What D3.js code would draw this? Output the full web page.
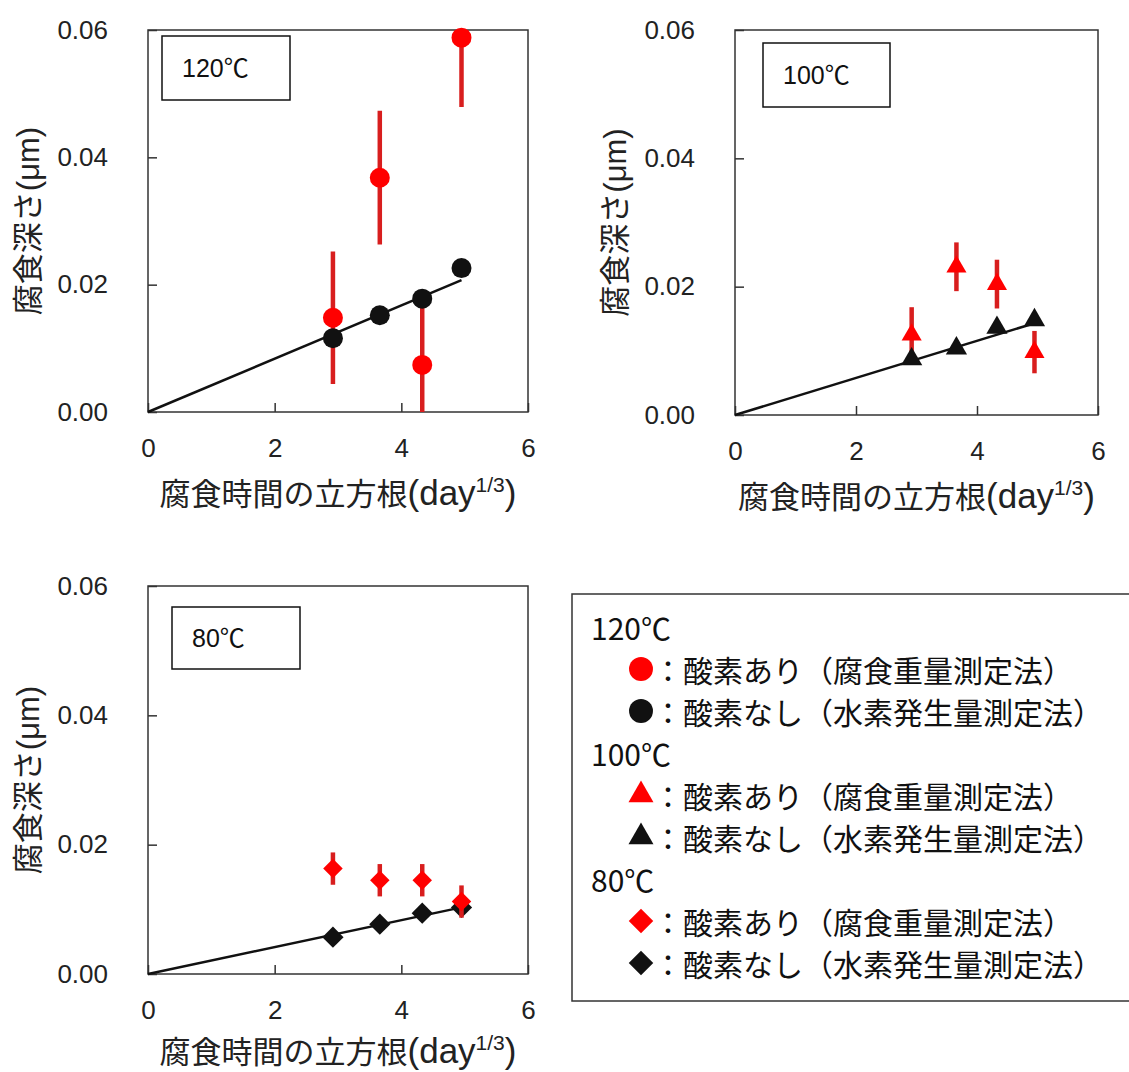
<!DOCTYPE html>
<html><head><meta charset="utf-8">
<script src="https://cdn.jsdelivr.net/npm/d3@7"></script>
<style>body{margin:0;background:#fff}</style>
</head><body>
<svg id="c" width="1129" height="1072"></svg>
<script>
// ---- data ----
const xTicks = [0, 2, 4, 6];
const yTicks = [0, 0.02, 0.04, 0.06];
const cubeRootDays = [2.92, 3.66, 4.33, 4.95];
const fitX = [0, 4.95];

// 120℃
const o2_120 = [0.0148, 0.0368, 0.0074, 0.0588];
const o2_120_err = [0.0104, 0.0105, 0.0092, 0.0109];
const h2_120 = [0.0116, 0.0152, 0.0178, 0.0226];
const fit_120 = [0, 0.0207];
// 100℃
const o2_100 = [0.0125, 0.0231, 0.0204, 0.0098];
const o2_100_err = [0.0043, 0.0038, 0.0038, 0.0033];
const h2_100 = [0.0087, 0.0104, 0.0136, 0.0148];
const fit_100 = [0, 0.0143];
// 80℃
const o2_80 = [0.0163, 0.0145, 0.0145, 0.0112];
const o2_80_err = [0.0025, 0.0025, 0.0025, 0.0025];
const h2_80 = [0.0057, 0.0077, 0.0094, 0.0103];
const fit_80 = [0, 0.0103];

const tempLabels = ["120℃", "100℃", "80℃"];
const legendWith = "：酸素あり（腐食重量測定法）";
const legendWithout = "：酸素なし（水素発生量測定法）";
const yTitleCJK = "腐食深さ", yTitleLatin = "(μm)";
const xTitleCJK = "腐食時間の立方根", xTitleLatin = "(day", xTitleSup = "1/3", xTitleEnd = ")";

// ---- style ----
const RED = "#ff0000", BAR = "#d81e1e", INK = "#111", AX = "#333";
const CJK = "'Noto Sans CJK JP', sans-serif";
const LAT = "'Liberation Sans', Arial, 'Noto Sans CJK JP', sans-serif";

const diamond = {draw(ctx, size){const s=Math.sqrt(size)/2*Math.SQRT2; ctx.moveTo(0,-s);ctx.lineTo(s,0);ctx.lineTo(0,s);ctx.lineTo(-s,0);ctx.closePath();}};

const panels = [
  {temp: tempLabels[0], o2: o2_120, err: o2_120_err, h2: h2_120, fit: fit_120,
   shape: d3.symbolCircle, redSize: 314, blackSize: 314, redTop: false,
   L: 148, R: 528, T: 30, B: 412, box: [162, 36, 128, 64], yTitleX: 28, xTitleY: 505},
  {temp: tempLabels[1], o2: o2_100, err: o2_100_err, h2: h2_100, fit: fit_100,
   shape: d3.symbolTriangle, redSize: 175, blackSize: 195, redTop: false,
   L: 735, R: 1098, T: 30, B: 415, box: [763, 43, 127, 64], yTitleX: 615, xTitleY: 508},
  {temp: tempLabels[2], o2: o2_80, err: o2_80_err, h2: h2_80, fit: fit_80,
   shape: diamond, redSize: 190, blackSize: 225, redTop: true,
   L: 148, R: 528, T: 586, B: 974, box: [172, 607, 128, 62], yTitleX: 28, xTitleY: 1063}
];

const svg = d3.select("#c");
const defs = svg.append("defs");

panels.forEach((p, pi) => {
  const x = d3.scaleLinear().domain([0, 6]).range([p.L, p.R]);
  const y = d3.scaleLinear().domain([0, 0.06]).range([p.B, p.T]);
  const g = svg.append("g");

  defs.append("clipPath").attr("id", "clip" + pi)
    .append("rect").attr("x", p.L).attr("y", p.T).attr("width", p.R - p.L).attr("height", p.B - p.T);

  // axes
  const xa = g.append("g").attr("transform", `translate(0,${p.B})`)
    .call(d3.axisBottom(x).tickValues(xTicks).tickFormat(d3.format("d")).tickSizeInner(-9).tickSizeOuter(0).tickPadding(27));
  const ya = g.append("g").attr("transform", `translate(${p.L},0)`)
    .call(d3.axisLeft(y).tickValues(yTicks).tickFormat(d3.format(".2f")).tickSizeInner(-9).tickSizeOuter(0).tickPadding(40));
  [xa, ya].forEach(a => {
    a.select(".domain").remove();
    a.selectAll("line").attr("stroke", AX).attr("stroke-width", 1.5);
    a.selectAll("text").attr("fill", "#222").style("font-family", LAT).style("font-size", "26px");
  });

  // frame
  g.append("rect").attr("x", p.L).attr("y", p.T).attr("width", p.R - p.L).attr("height", p.B - p.T)
    .attr("fill", "none").attr("stroke", AX).attr("stroke-width", 1.5);

  // inset label box
  g.append("rect").attr("x", p.box[0]).attr("y", p.box[1]).attr("width", p.box[2]).attr("height", p.box[3])
    .attr("fill", "#fff").attr("stroke", "#111").attr("stroke-width", 1.5);
  g.append("text").attr("x", p.box[0] + 20).attr("y", p.box[1] + p.box[3] / 2 + 9)
    .style("font-family", LAT).style("font-size", "25px").attr("fill", "#111").text(p.temp);

  const plot = g.append("g");
  const drawRed = () => {
    plot.append("g").attr("clip-path", `url(#clip${pi})`).selectAll("line").data(p.o2).join("line")
      .attr("x1", (d, i) => x(cubeRootDays[i])).attr("x2", (d, i) => x(cubeRootDays[i]))
      .attr("y1", (d, i) => y(d + p.err[i])).attr("y2", (d, i) => y(d - p.err[i]))
      .attr("stroke", BAR).attr("stroke-width", 4.5);
    plot.append("g").selectAll("path").data(p.o2).join("path")
      .attr("transform", (d, i) => `translate(${x(cubeRootDays[i])},${y(d)})`)
      .attr("d", d3.symbol(p.shape, p.redSize)).attr("fill", RED);
  };
  const drawBlack = () => {
    plot.append("path").datum(fitX.map((v, i) => [v, p.fit[i]]))
      .attr("d", d3.line().x(d => x(d[0])).y(d => y(d[1])))
      .attr("stroke", INK).attr("stroke-width", 2.5).attr("fill", "none");
    plot.append("g").selectAll("path").data(p.h2).join("path")
      .attr("transform", (d, i) => `translate(${x(cubeRootDays[i])},${y(d)})`)
      .attr("d", d3.symbol(p.shape, p.blackSize)).attr("fill", INK);
  };
  if (p.redTop) { drawBlack(); drawRed(); } else { drawRed(); drawBlack(); }

  // y title
  const yt = g.append("text")
    .attr("transform", `translate(${p.yTitleX + 11},${(p.T + p.B) / 2}) rotate(-90)`)
    .attr("text-anchor", "middle").attr("fill", "#222");
  yt.append("tspan").style("font-family", CJK).style("font-size", "31px").text(yTitleCJK);
  yt.append("tspan").style("font-family", LAT).style("font-size", "31px").text(yTitleLatin);

  // x title
  const xt = g.append("text").attr("x", (p.L + p.R) / 2).attr("y", p.xTitleY)
    .attr("text-anchor", "middle").attr("fill", "#222");
  xt.append("tspan").style("font-family", CJK).style("font-size", "31px").text(xTitleCJK);
  xt.append("tspan").style("font-family", LAT).style("font-size", "35px").text(xTitleLatin);
  xt.append("tspan").style("font-family", LAT).style("font-size", "21px").attr("dy", -13).text(xTitleSup);
  xt.append("tspan").style("font-family", LAT).style("font-size", "35px").attr("dy", 13).text(xTitleEnd);
});

// ---- legend ----
const lg = svg.append("g");
lg.append("rect").attr("x", 572).attr("y", 594).attr("width", 600).attr("height", 407)
  .attr("fill", "#fff").attr("stroke", AX).attr("stroke-width", 1.5);
const legendShapes = [
  {shape: d3.symbolCircle, size: 450},
  {shape: d3.symbolTriangle, size: 270},
  {shape: diamond, size: 300}
];
const rowY = d3.scaleLinear().domain([0, 8]).range([627, 963]);
tempLabels.forEach((t, k) => {
  const r0 = k * 3;
  lg.append("text").attr("x", 591).attr("y", rowY(r0)).attr("dominant-baseline", "central")
    .style("font-family", CJK).style("font-size", "30px").attr("fill", "#111").text(t);
  [[RED, legendWith], [INK, legendWithout]].forEach(([col, txt], j) => {
    const yy = rowY(r0 + 1 + j);
    lg.append("path").attr("transform", `translate(641,${yy})`)
      .attr("d", d3.symbol(legendShapes[k].shape, legendShapes[k].size)).attr("fill", col);
    lg.append("text").attr("x", 653).attr("y", yy).attr("dominant-baseline", "central")
      .style("font-family", CJK).style("font-size", "30px").attr("fill", "#111").text(txt);
  });
});
</script>
</body></html>
